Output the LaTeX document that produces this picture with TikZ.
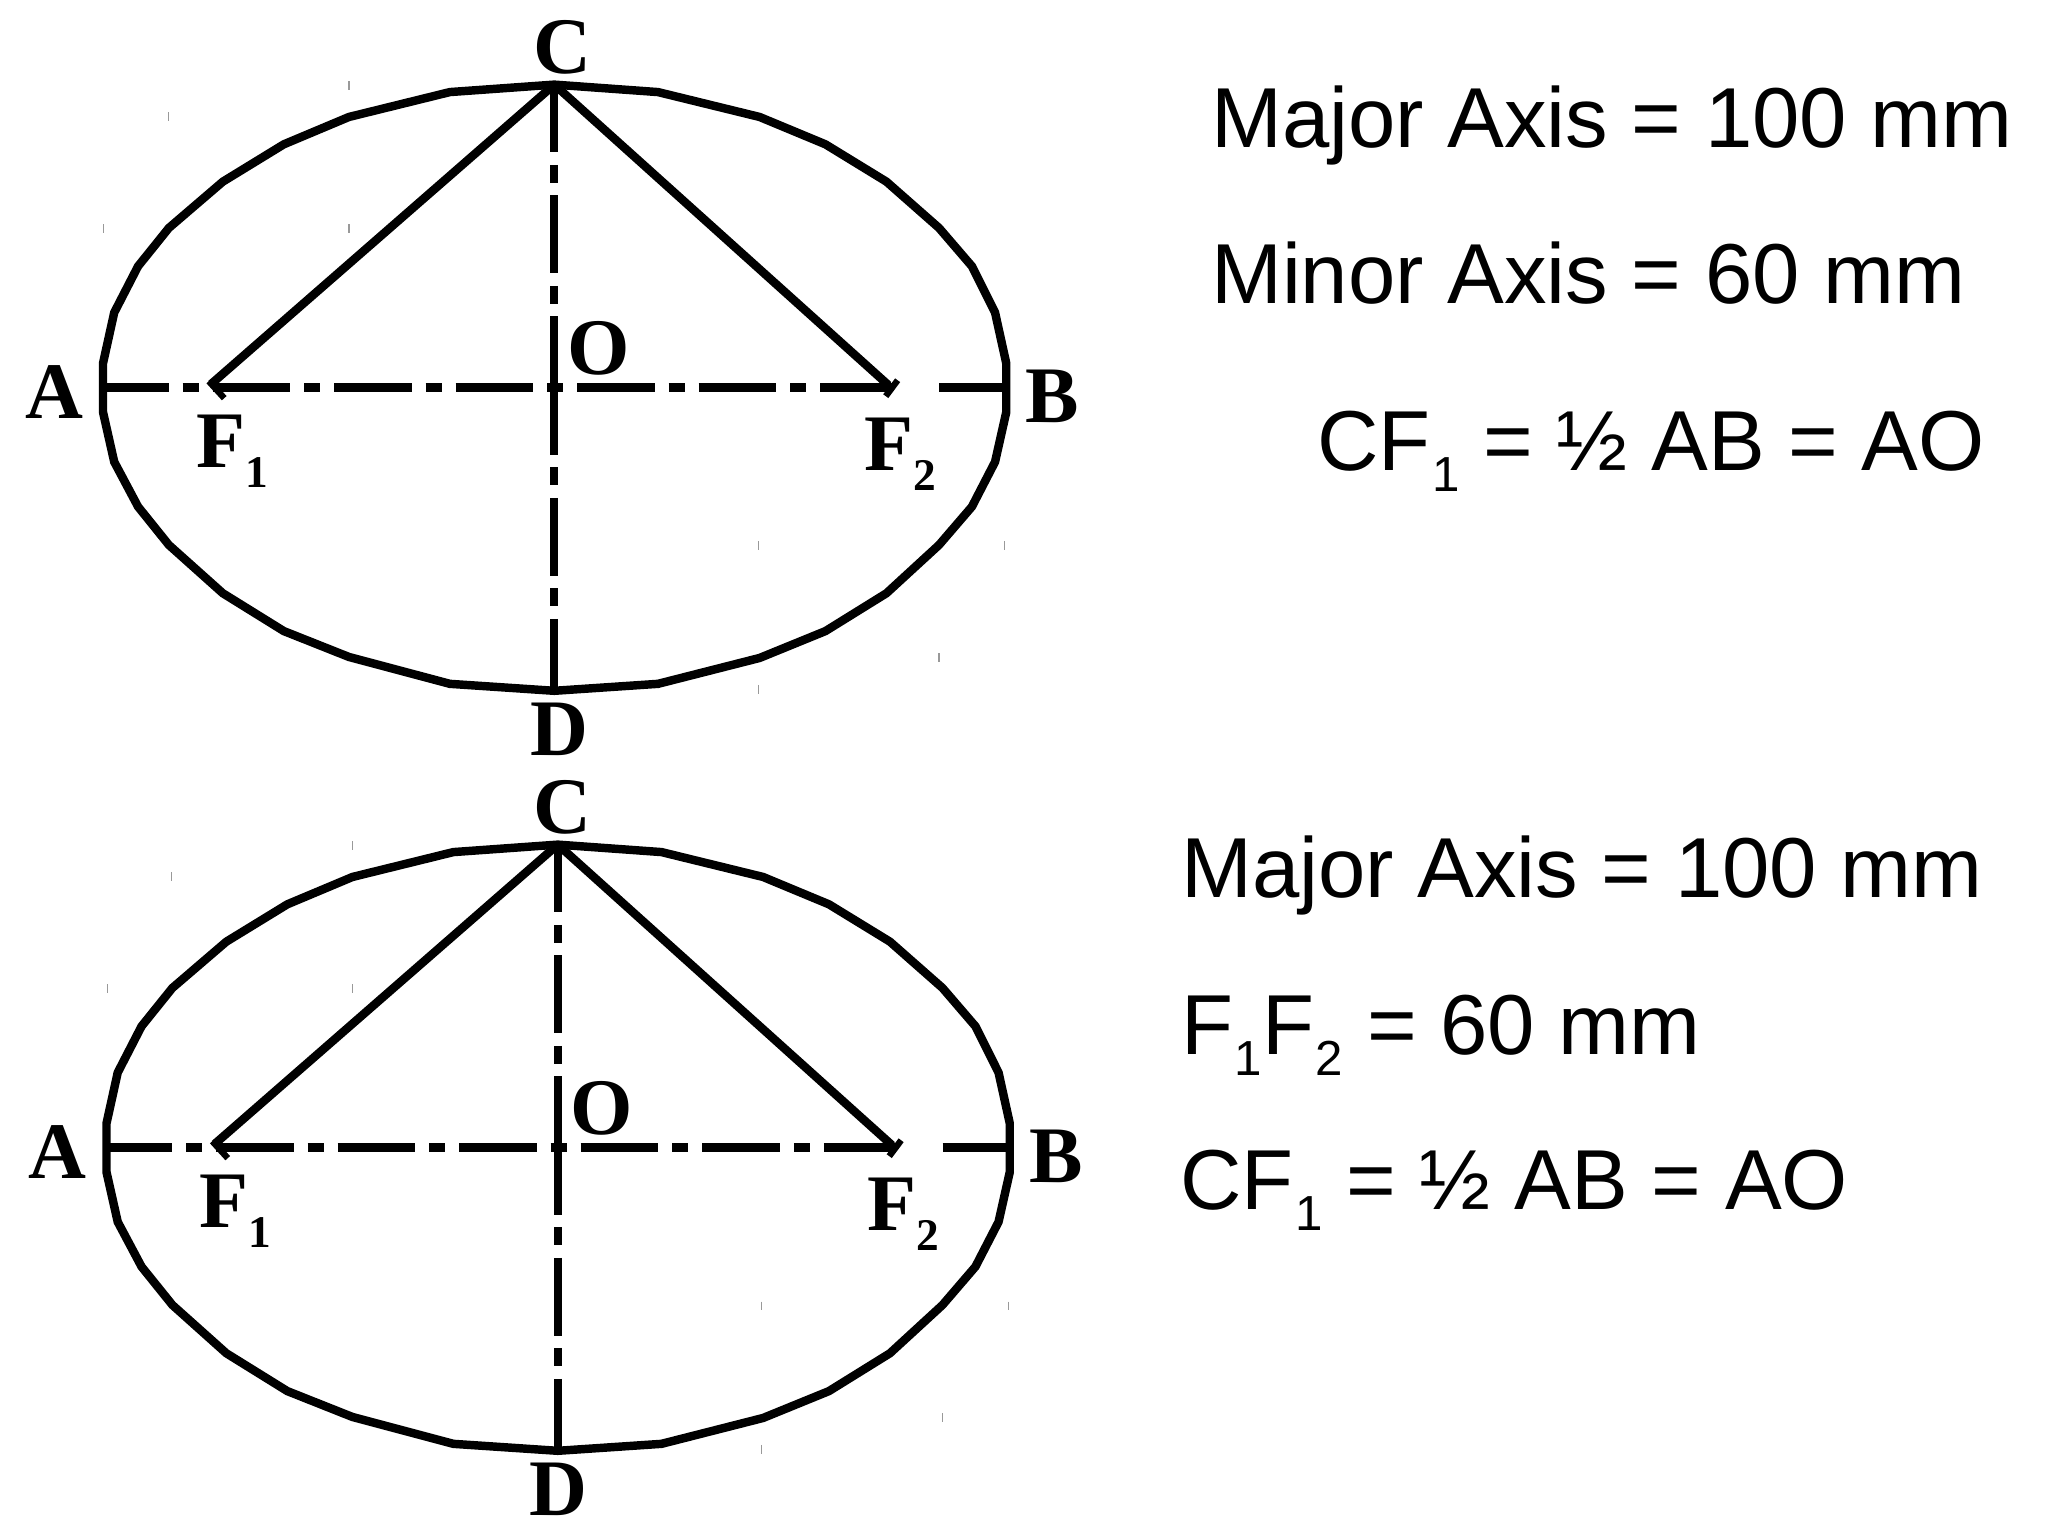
\documentclass[tikz,border=0pt]{standalone}
\usepackage{fontspec}
\setmainfont{Liberation Serif}
\newfontfamily\lsans{Liberation Sans}
\tikzset{
  outline/.style={line width=2.4pt,line join=miter,miter limit=3},
  focal/.style={line width=2.4pt},
  barb/.style={line width=1.8pt},
  tickmark/.style={line width=0.3pt,black!40},
  axisbig/.style={line width=2.65pt},
  dashh/.style={dash pattern=on 22.05pt off 3.98pt on 4.55pt off 3.98pt,dash phase=3.4pt},
  dashv/.style={line width=2.3pt,dash pattern=on 22.2pt off 3.55pt on 5.1pt off 3.55pt,dash phase=2.93pt},
  lab/.style={inner sep=0pt,anchor=base,font=\fontsize{22.8pt}{24pt}\selectfont\bfseries},
  labw/.style={lab,anchor=base west},
  info/.style={inner sep=0pt,anchor=base west,font=\fontsize{24.2pt}{28pt}\selectfont\lsans},
}
\newcommand{\subS}[1]{\kern0.5pt\raisebox{-5.9pt}{\fontsize{14pt}{16pt}\selectfont #1}}
\newcommand{\subB}[1]{\raisebox{-5.7pt}{\fontsize{12.9pt}{15pt}\selectfont #1}}
\newcommand{\ellipsefig}[5]{%
\begin{scope}[shift={(#2,#3)},x=0.00701cm,y=-0.004975cm]
  \coordinate (#1a) at (147,778);
  \coordinate (#1b) at (1436,778);
  \coordinate (#1c) at (791,170);
  \coordinate (#1d) at (791,1388);
  \coordinate (#1o) at (791,778);
  \coordinate (#1fa) at (301,772);
  \coordinate (#1fb) at (1268,774);
  \coordinate (#1ga) at (1274,778);
  \coordinate (#1gb) at (1340,778);
  \draw[outline] (147,828) -- (147,730) -- (163,628) -- (197,535) -- (241,458) -- (318,365) -- (405,290) -- (498,235) -- (642,185) -- (791,170) -- (939,185) -- (1084,235) -- (1178,290) -- (1265,365) -- (1340,458) -- (1387,535) -- (1420,628) -- (1436,730) -- (1436,828) -- (1420,928) -- (1387,1018) -- (1340,1095) -- (1265,1192) -- (1178,1268) -- (1084,1322) -- (939,1374) -- (791,1388) -- (642,1374) -- (498,1320) -- (405,1268) -- (318,1192) -- (241,1095) -- (197,1018) -- (163,928) -- cycle;
  \draw[axisbig,dashh] (#1a) -- (#1ga);
  \draw[axisbig] (#1gb) -- (#1b);
  \draw[dashv] (#1c) -- (#1o);
  \draw[dashv] (#1o) -- (#1d);
  \draw[focal] (#1c) -- (#1fa);
  \draw[focal] (#1c) -- (#1fb);
  \draw[barb] (298,766) -- (320,800);
  \draw[barb] (1281,764) -- (1264,796);
  \foreach \tx/\ty in {498/172,240/235,148/460,498/460,1082/1097,1434/1097,1340/1322,1082/1385}
    \draw[tickmark] (\tx,\ty-9) -- (\tx,\ty+9);
  \node[lab] (#1A) at (77,840) {A};
  \node[lab] (#1B) at (1502,848) {B};
  \node[lab] (#1C) at (#4,147) {C};
  \node[lab] (#1D) at (#5,1518) {D};
  \node[lab] (#1O) at (854,753) {O};
  \node[labw] (#1F) at (279,939) {F\subB{1}};
  \node[labw] (#1G) at (1232,946) {F\subB{2}};
\end{scope}}
\begin{document}
\begin{tikzpicture}[x=0.01cm,y=-0.01cm]
  \fill[white] (0,0) rectangle (2048,1536);
  \useasboundingbox (0,0) rectangle (2048,1536);
  \ellipsefig{t}{0}{0}{802}{799}
  \ellipsefig{u}{3.5}{760}{798}{792}
  \node[info] (m1) at (1210.4,147) {Major Axis = 100 mm};
  \node[info] (m2) at (1210.4,303) {Minor Axis = 60 mm};
  \node[info] (m3) at (1316.4,470.7) {CF\subS{1} = ½ AB = AO};
  \node[info] (n1) at (1180.4,897.3) {Major Axis = 100 mm};
  \node[info] (n2) at (1180.4,1054.5) {F\subS{1}F\subS{2} = 60 mm};
  \node[info] (n3) at (1179.7,1209.3) {CF\subS{1} = ½ AB = AO};
\end{tikzpicture}
\end{document}
